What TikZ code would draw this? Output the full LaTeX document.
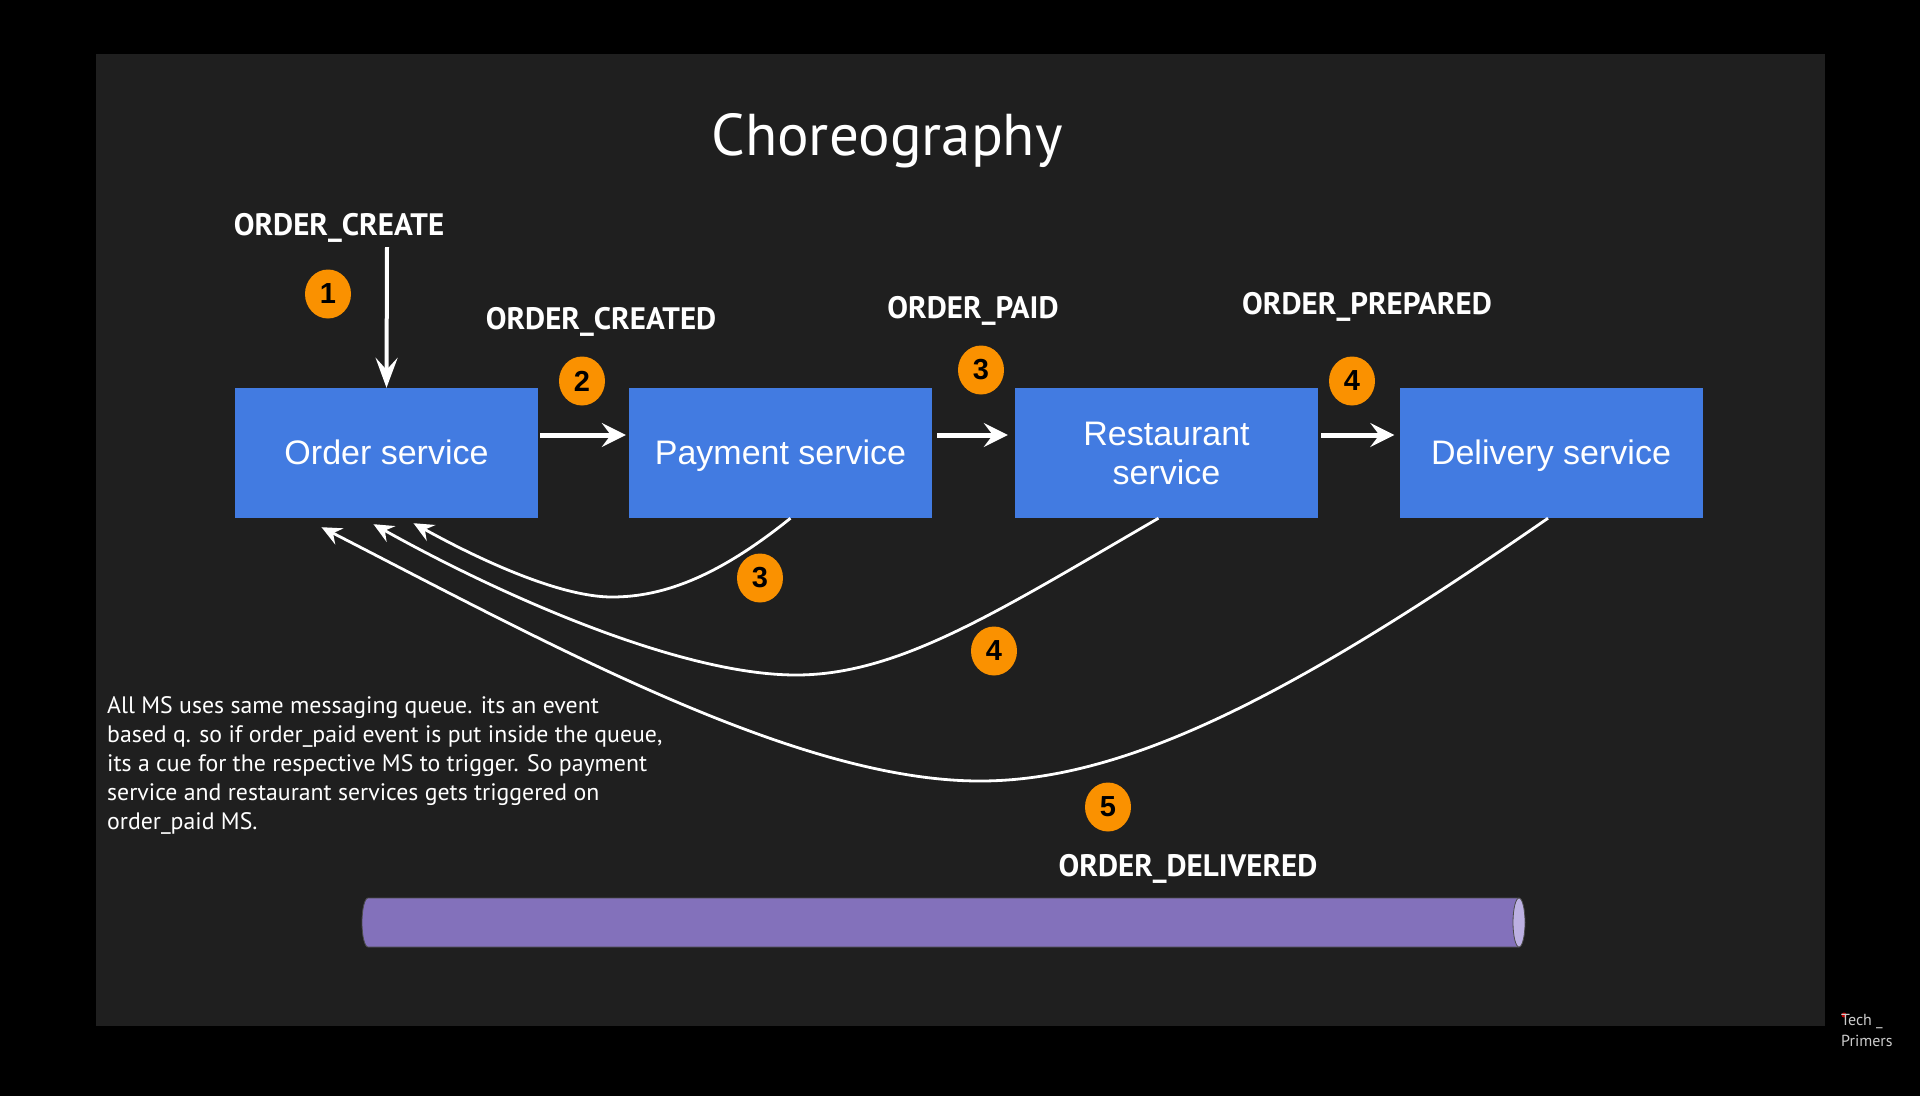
\documentclass[tikz,border=0pt]{standalone}
\usepackage{fontspec}
\setmainfont{Liberation Sans}
\newfontfamily\ptsans{PT Sans}
\usetikzlibrary{arrows.meta,shapes.geometric}
\definecolor{panelc}{RGB}{31,31,31}
\definecolor{boxblue}{RGB}{66,123,225}
\definecolor{numorange}{RGB}{250,145,0}
\definecolor{qpurple}{RGB}{131,113,187}
\definecolor{qlight}{RGB}{188,176,226}
\begin{document}
\begin{tikzpicture}[x=1pt,y=-1pt,
  svc/.style={fill=boxblue, minimum width=303pt, minimum height=130pt, inner sep=0pt,
    text=white, align=center, font=\fontsize{34}{39}\selectfont},
  svcone/.style={svc, text height=25pt, text depth=3pt},
  lbl/.style={text=white, inner sep=0pt, font=\ptsans\bfseries\fontsize{31}{34}\selectfont},
  numc/.style={ellipse, fill=numorange, minimum width=46pt, minimum height=49pt, inner sep=0pt,
    text=black, font=\bfseries\fontsize{29}{29}\selectfont},
  harrow/.style={draw=white, line width=5pt, -{Stealth[length=24pt,width=24pt,inset=9pt]}},
  darrow/.style={draw=white, line width=4pt, -{Stealth[length=30pt,width=22pt,inset=12pt]}},
  carrow/.style={draw=white, line width=2.8pt, -{Stealth[length=20pt,width=18pt,inset=7pt]}}
]
% background
\fill[black] (0,0) rectangle (1920,1096);
\fill[panelc] (96,54) rectangle (1825,1026);

% title
\node[text=white, font=\ptsans\fontsize{59}{62}\selectfont, anchor=base] (title) at (887,155) {Choreography};

% services
\node[svcone] (order) at (386.5,453) {Order service};
\node[svcone] (pay) at (780.5,453) {Payment service};
\node[svc] (rest) at (1166.5,453) {Restaurant\\service};
\node[svcone] (deliv) at (1551,453) {Delivery service};

% event labels
\node[lbl] (lcreate) at (339,228) {ORDER\_CREATE};
\node[lbl] (lcreated) at (601,322) {ORDER\_CREATED};
\node[lbl] (lpaid) at (973,311) {ORDER\_PAID};
\node[lbl] (lprepared) at (1367,307) {ORDER\_PREPARED};
\node[lbl] (ldelivered) at (1188,869) {ORDER\_DELIVERED};

% numbers
\node[numc] (n1) at (328,294) {1};
\node[numc] (n2) at (582,381) {2};
\node[numc] (n3a) at (981,370) {3};
\node[numc] (n4a) at (1352,381) {4};
\node[numc] (n3b) at (760,578) {3};
\node[numc] (n4b) at (994,651) {4};
\node[numc] (n5) at (1108,807) {5};

% arrows
\coordinate (createTop) at (387,247);
\draw[darrow] (createTop) -- (order.north);
\draw[harrow] ([xshift=2pt,yshift=18pt]order.east) -- ([xshift=-3pt,yshift=18pt]pay.west);
\draw[harrow] ([xshift=5pt,yshift=18pt]pay.east) -- ([xshift=-7pt,yshift=18pt]rest.west);
\draw[harrow] ([xshift=3pt,yshift=18pt]rest.east) -- ([xshift=-5pt,yshift=18pt]deliv.west);

% return curves
\draw[carrow] ([xshift=10pt]pay.south) .. controls (720,575) and (665,597) .. (612,597)
  .. controls (560,597) and (480,560) .. ([xshift=27pt,yshift=-5pt]order.south);
\draw[carrow] ([xshift=-8pt]rest.south) .. controls (1000,610) and (900,675) .. (796,675)
  .. controls (680,675) and (500,595) .. ([xshift=-13pt,yshift=-6pt]order.south);
\draw[carrow] ([xshift=-3pt]deliv.south) .. controls (1300,690) and (1130,781) .. (980,781)
  .. controls (800,781) and (560,650) .. ([xshift=-65pt,yshift=-9pt]order.south);

% note
\node[anchor=north west, inner sep=0pt, text=white, align=left,
  font=\ptsans\fontsize{23.8}{29}\selectfont] (note) at (107,696)
  {All MS uses same messaging queue. its an event\\
   based q. so if order\_paid event is put inside the queue,\\
   its a cue for the respective MS to trigger. So payment\\
   service and restaurant services gets triggered on\\
   order\_paid MS.};

% queue
\fill[qpurple, draw=black!70, line width=0.8pt] (1519,898) -- (368,898)
  arc[start angle=90, end angle=270, x radius=6pt, y radius=24.5pt] -- (1519,947) -- cycle;
\draw[fill=qlight, draw=black!70, line width=0.8pt] (1519,922.5) ellipse [x radius=6pt, y radius=24.5pt];

% watermark
\fill[red!75!black] (1844,1015) circle (2.5pt);
\node[anchor=west, inner sep=0pt, text=white!80!black, font=\ptsans\fontsize{16}{16}\selectfont] (wm1) at (1841,1022) {Tech \_};
\node[anchor=west, inner sep=0pt, text=white!80!black, font=\ptsans\fontsize{16}{16}\selectfont] (wm2) at (1841,1041) {Primers};
\end{tikzpicture}
\end{document}
